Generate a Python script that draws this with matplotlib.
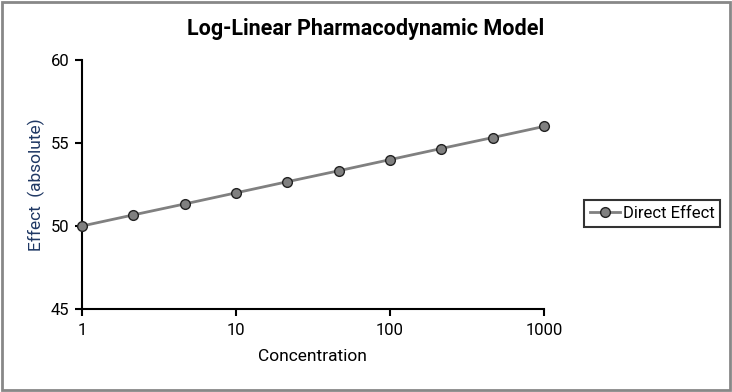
import matplotlib.pyplot as plt
from matplotlib.patches import Rectangle

plt.rcParams['font.family'] = ['Roboto', 'DejaVu Sans']

concentration = [1, 2.154, 4.642, 10, 21.54, 46.42, 100, 215.4, 464.2, 1000]
effect = [50.0, 50.67, 51.33, 52.0, 52.67, 53.33, 54.0, 54.67, 55.33, 56.0]
y_ticks = [45, 50, 55, 60]
x_ticks = [1, 10, 100, 1000]

fig = plt.figure(figsize=(7.32, 3.92), dpi=100)
ax = fig.add_axes([0.112, 0.2117, 0.631, 0.635])

line, = ax.plot(concentration, effect, color='#808080', lw=2, marker='o',
                markersize=7, markerfacecolor='#808080', markeredgecolor='#222222',
                markeredgewidth=1, label='Direct Effect', clip_on=False, zorder=3)

ax.set_xscale('log')
ax.set_xlim(1, 1000)
ax.set_ylim(45, 60)
ax.set_xticks(x_ticks)
ax.set_xticklabels([str(t) for t in x_ticks])
ax.xaxis.set_minor_locator(plt.NullLocator())
ax.set_yticks(y_ticks)

for s in ['top', 'right']:
    ax.spines[s].set_visible(False)
for s in ['left', 'bottom']:
    ax.spines[s].set_linewidth(1.5)
    ax.spines[s].set_color('black')
ax.tick_params(axis='both', direction='out', length=5, width=1.5, labelsize=12, colors='black')
ax.tick_params(axis='x', pad=5)
ax.tick_params(axis='y', pad=4)

ax.set_xlabel('Concentration', fontsize=12.5, labelpad=8)
ax.set_ylabel('Effect  (absolute)', fontsize=12.5, color='#1f3864', labelpad=4)

fig.text(0.5, 0.925, 'Log-Linear Pharmacodynamic Model', ha='center', va='center',
         fontsize=15.5, fontweight='bold')

leg = fig.legend(handles=[line], loc='center left', bbox_to_anchor=(0.786, 0.455),
                 frameon=True, fancybox=False, edgecolor='black', fontsize=12,
                 handlelength=1.8, handletextpad=0.2, borderpad=0.35)
leg.get_frame().set_linewidth(1.5)

fig.patches.append(Rectangle((0.003, 0.005), 0.994, 0.99, transform=fig.transFigure,
                             fill=False, edgecolor='#888888', lw=2))

fig.savefig('out.png', dpi=100)
